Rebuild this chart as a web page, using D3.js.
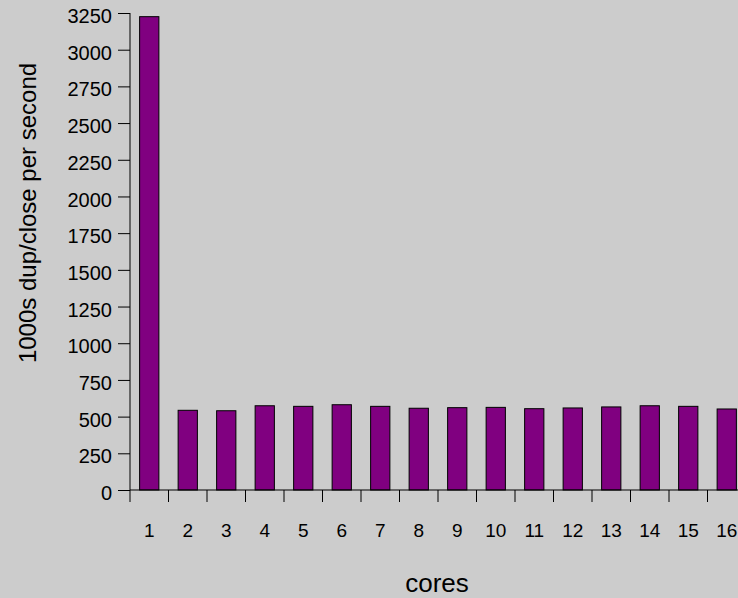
<!DOCTYPE html>
<html>
<head>
<meta charset="utf-8">
<script src="https://cdn.jsdelivr.net/npm/d3@7"></script>
<style>
  body { margin: 0; background: #cccccc; }
  svg { display: block; }
  text { font-family: "Liberation Sans", Arial, sans-serif; fill: #000; }
</style>
</head>
<body>
<div id="chart"></div>
<script>
var cores = ["1","2","3","4","5","6","7","8","9","10","11","12","13","14","15","16"];
var rates = [3225, 543, 540, 574, 570, 581, 570, 557, 561, 563, 554, 559, 566, 574, 570, 552];
var yTicks = [0, 250, 500, 750, 1000, 1250, 1500, 1750, 2000, 2250, 2500, 2750, 3000, 3250];

var w = 738, h = 598;
var plotLeft = 130, plotTop = 13, plotBottom = 490;
var step = 38.5;

var svg = d3.select("#chart")
  .append("svg")
  .attr("width", w)
  .attr("height", h)
  .style("background-color", "#cccccc");

var x = d3.scaleBand()
  .domain(cores)
  .range([plotLeft, plotLeft + step * cores.length])
  .paddingInner(0.5)
  .paddingOuter(0.25);

var y = d3.scaleLinear()
  .domain([0, 3250])
  .range([plotBottom, plotTop]);

// bars
svg.selectAll("rect.bar")
  .data(rates)
  .enter()
  .append("rect")
  .attr("class", "bar")
  .attr("x", (d, i) => x(cores[i]))
  .attr("y", d => y(d))
  .attr("width", x.bandwidth())
  .attr("height", d => plotBottom - y(d))
  .style("fill", "#800080")
  .style("stroke", "#000")
  .style("stroke-width", 1);

// y axis
var yAxis = d3.axisLeft(y)
  .tickValues(yTicks)
  .tickFormat(d3.format("d"))
  .tickSize(12)
  .tickPadding(6);
var gy = svg.append("g")
  .attr("transform", "translate(" + plotLeft + ",0)")
  .call(yAxis);
gy.selectAll("text").style("font-size", "20px").attr("dy", "0.48em");
gy.selectAll("line, path").style("stroke", "#000");
gy.select(".domain").attr("d", "M0," + plotTop + "V" + plotBottom);

// x axis: ticks at band boundaries, labels at centres
var gx = svg.append("g");
gx.append("line")
  .attr("x1", plotLeft).attr("x2", w)
  .attr("y1", plotBottom).attr("y2", plotBottom)
  .style("stroke", "#000");
var bounds = d3.range(cores.length + 1).map(i => plotLeft + step * i);
gx.selectAll("line.tick")
  .data(bounds)
  .enter()
  .append("line")
  .attr("class", "tick")
  .attr("x1", d => d).attr("x2", d => d)
  .attr("y1", plotBottom).attr("y2", plotBottom + 12)
  .style("stroke", "#000");
gx.selectAll("text")
  .data(cores)
  .enter()
  .append("text")
  .attr("x", d => x(d) + x.bandwidth() / 2)
  .attr("y", 537)
  .attr("text-anchor", "middle")
  .style("font-size", "19px")
  .text(d => d);

// titles
svg.append("text")
  .attr("x", 437)
  .attr("y", 592)
  .attr("text-anchor", "middle")
  .style("font-size", "26px")
  .text("cores");

svg.append("text")
  .attr("transform", "translate(36,213) rotate(-90)")
  .attr("text-anchor", "middle")
  .style("font-size", "24px")
  .text("1000s dup/close per second");
</script>
</body>
</html>
